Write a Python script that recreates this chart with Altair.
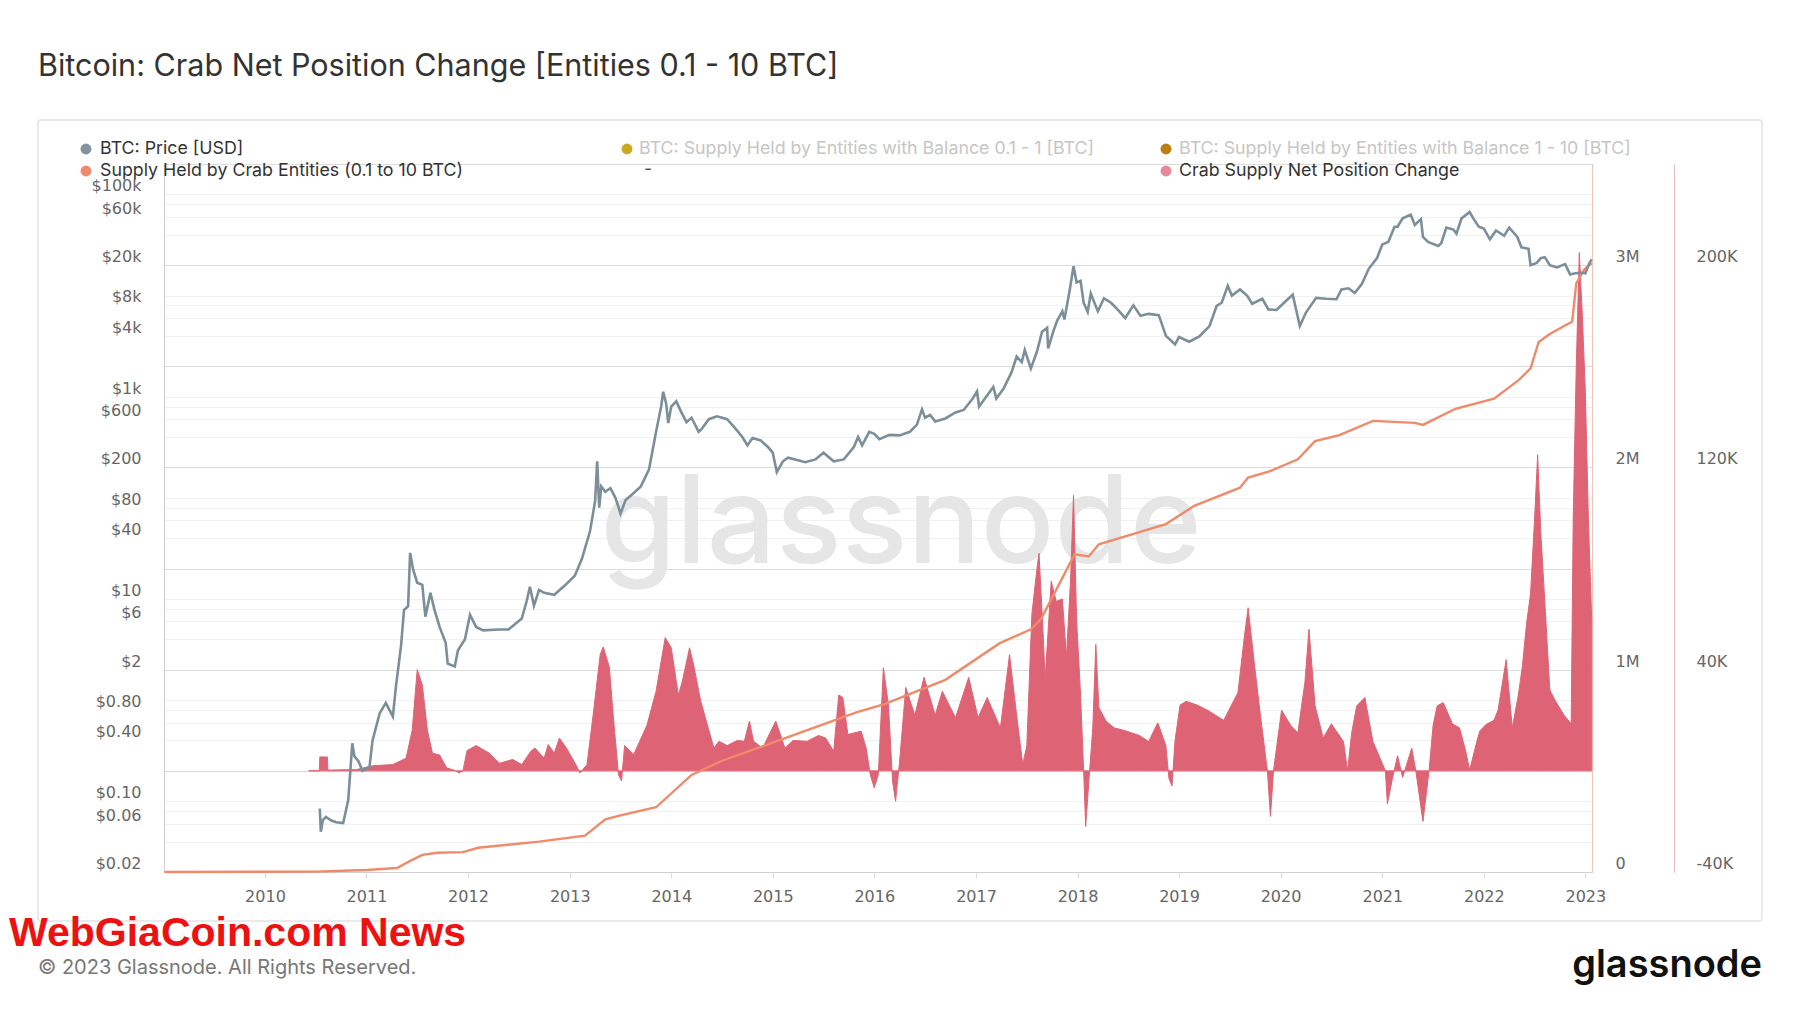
import altair as alt
import pandas as pd

# ---------------- data ----------------
price_t = [2010.54, 2010.55, 2010.57, 2010.60, 2010.65, 2010.70, 2010.77, 2010.82, 2010.86, 2010.88,
           2010.92, 2010.96, 2011.03, 2011.06, 2011.13, 2011.19, 2011.26, 2011.29, 2011.34, 2011.37,
           2011.41, 2011.43, 2011.46, 2011.50, 2011.55, 2011.58, 2011.63, 2011.67, 2011.72, 2011.78,
           2011.80, 2011.87, 2011.90, 2011.97, 2012.02, 2012.08, 2012.15, 2012.30, 2012.40, 2012.53,
           2012.58, 2012.61, 2012.65, 2012.70, 2012.75, 2012.85, 2012.95, 2013.05, 2013.12, 2013.20,
           2013.25, 2013.27, 2013.29, 2013.31, 2013.35, 2013.40, 2013.45, 2013.50, 2013.55, 2013.60,
           2013.70, 2013.78, 2013.85, 2013.90, 2013.92, 2013.95, 2013.97, 2014.00, 2014.05, 2014.10,
           2014.15, 2014.20, 2014.27, 2014.30, 2014.37, 2014.45, 2014.55, 2014.62, 2014.70, 2014.75,
           2014.80, 2014.88, 2014.95, 2015.00, 2015.04, 2015.10, 2015.15, 2015.25, 2015.32, 2015.42,
           2015.50, 2015.60, 2015.70, 2015.80, 2015.84, 2015.88, 2015.95, 2016.00, 2016.05, 2016.15,
           2016.25, 2016.35, 2016.42, 2016.47, 2016.50, 2016.55, 2016.60, 2016.70, 2016.80, 2016.88,
           2016.97, 2017.01, 2017.03, 2017.10, 2017.17, 2017.20, 2017.27, 2017.35, 2017.40, 2017.45,
           2017.48, 2017.54, 2017.60, 2017.65, 2017.70, 2017.71, 2017.76, 2017.80, 2017.85, 2017.87,
           2017.92, 2017.96, 2017.99, 2018.03, 2018.06, 2018.10, 2018.13, 2018.20, 2018.26, 2018.33,
           2018.40, 2018.47, 2018.55, 2018.62, 2018.70, 2018.80, 2018.87, 2018.96, 2019.00, 2019.10,
           2019.20, 2019.30, 2019.37, 2019.42, 2019.48, 2019.52, 2019.60, 2019.67, 2019.72, 2019.82,
           2019.88, 2019.96, 2020.05, 2020.12, 2020.19, 2020.25, 2020.35, 2020.45, 2020.55, 2020.60,
           2020.67, 2020.73, 2020.80, 2020.87, 2020.95, 2021.00, 2021.06, 2021.12, 2021.15, 2021.20,
           2021.28, 2021.32, 2021.38, 2021.40, 2021.45, 2021.55, 2021.58, 2021.63, 2021.70, 2021.73,
           2021.78, 2021.86, 2021.90, 2021.95, 2022.00, 2022.06, 2022.12, 2022.20, 2022.25, 2022.33,
           2022.37, 2022.44, 2022.46, 2022.52, 2022.56, 2022.60, 2022.65, 2022.72, 2022.80, 2022.85,
           2022.90, 2022.96, 2023.00, 2023.04, 2023.063]
price_usd = [0.085, 0.05, 0.065, 0.07, 0.065, 0.062, 0.061, 0.103, 0.375, 0.28,
             0.25, 0.2, 0.22, 0.4, 0.74, 0.94, 0.69, 1.36, 3.4, 7.8,
             8.5, 28.6, 19.5, 14.5, 13.8, 6.7, 11.5, 7.8, 5.3, 3.7,
             2.3, 2.15, 3.1, 4.0, 7.0, 5.3, 4.9, 5.0, 5.0, 6.4,
             9.7, 13.2, 8.6, 12.3, 11.5, 11.0, 13.5, 17, 25, 47,
             93, 230, 80, 130, 115, 125, 100, 70, 95, 105,
             130, 190, 450, 800, 1120, 850, 550, 800, 900, 700,
             560, 620, 450, 480, 600, 640, 600, 500, 400, 330,
             390, 370, 320, 280, 180, 230, 250, 235, 225, 240,
             280, 230, 240, 320, 400, 330, 450, 430, 380, 420,
             415, 450, 530, 750, 620, 660, 570, 610, 700, 740,
             960, 1130, 800, 1000, 1250, 960, 1200, 1750, 2500, 2200,
             2900, 1900, 2800, 4400, 4800, 3000, 4400, 5700, 7000, 5800,
             11000, 19500, 13500, 14000, 8500, 6900, 10500, 7000, 9400, 8500,
             7200, 6000, 8000, 6300, 6600, 6400, 4000, 3300, 3900, 3500,
             3950, 5000, 7900, 8500, 12500, 10000, 11500, 10000, 8300, 9300,
             7300, 7200, 8800, 10200, 5000, 6800, 9500, 9300, 9200, 11500,
             11800, 10600, 13000, 18500, 23500, 32000, 34000, 48000, 48000, 58000,
             63000, 50000, 57000, 38000, 34000, 31000, 33000, 47000, 45000, 41000,
             58000, 67000, 57000, 48000, 46000, 36000, 44000, 39000, 47000, 38000,
             30000, 29000, 20000, 21000, 23500, 24000, 20000, 19000, 20500, 16200,
             16600, 16800, 16600, 21000, 22800]

supply_t = [2009.01, 2010.50, 2011.00, 2011.30, 2011.45, 2011.55, 2011.70, 2011.95, 2012.10, 2012.70,
            2013.15, 2013.35, 2013.50, 2013.85, 2014.20, 2014.50, 2015.17, 2015.83, 2016.10, 2016.70,
            2017.23, 2017.54, 2017.64, 2017.97, 2018.11, 2018.21, 2018.87, 2019.15, 2019.60, 2019.68,
            2019.89, 2020.17, 2020.34, 2020.58, 2020.91, 2021.32, 2021.40, 2021.72, 2022.10, 2022.34,
            2022.46, 2022.54, 2022.65, 2022.83, 2022.87, 2022.91, 2022.99, 2023.063]
supply_m = [0.0, 0.002, 0.01, 0.02, 0.06, 0.085, 0.095, 0.098, 0.12, 0.15,
            0.18, 0.26, 0.28, 0.32, 0.48, 0.55, 0.67, 0.79, 0.83, 0.95,
            1.13, 1.2, 1.25, 1.57, 1.56, 1.62, 1.72, 1.81, 1.9, 1.95,
            1.98, 2.04, 2.13, 2.16, 2.23, 2.22, 2.21, 2.29, 2.34, 2.43,
            2.49, 2.62, 2.66, 2.71, 2.72, 2.91, 2.98, 3.01]

net_t = [2010.43, 2010.535, 2010.54, 2010.615, 2010.62, 2010.90, 2011.06, 2011.26, 2011.39, 2011.45,
         2011.50, 2011.55, 2011.60, 2011.65, 2011.72, 2011.79, 2011.88, 2011.91, 2011.95, 2011.99,
         2012.08, 2012.21, 2012.31, 2012.44, 2012.53, 2012.62, 2012.66, 2012.75, 2012.79, 2012.85,
         2012.90, 2012.97, 2013.06, 2013.10, 2013.17, 2013.23, 2013.30, 2013.33, 2013.39, 2013.43,
         2013.48, 2013.51, 2013.54, 2013.63, 2013.76, 2013.85, 2013.94, 2014.00, 2014.07, 2014.11,
         2014.18, 2014.22, 2014.29, 2014.42, 2014.47, 2014.55, 2014.65, 2014.72, 2014.77, 2014.81,
         2014.90, 2015.03, 2015.12, 2015.20, 2015.34, 2015.45, 2015.52, 2015.60, 2015.65, 2015.69,
         2015.74, 2015.87, 2015.92, 2015.96, 2016.00, 2016.04, 2016.09, 2016.14, 2016.18, 2016.21,
         2016.25, 2016.31, 2016.40, 2016.49, 2016.60, 2016.67, 2016.80, 2016.93, 2017.02, 2017.11,
         2017.24, 2017.33, 2017.40, 2017.46, 2017.50, 2017.55, 2017.60, 2017.62, 2017.66, 2017.68,
         2017.74, 2017.79, 2017.85, 2017.89, 2017.93, 2017.96, 2017.99, 2018.03, 2018.06, 2018.08,
         2018.11, 2018.15, 2018.18, 2018.21, 2018.25, 2018.28, 2018.36, 2018.46, 2018.61, 2018.70,
         2018.79, 2018.87, 2018.90, 2018.93, 2018.96, 2019.01, 2019.07, 2019.18, 2019.28, 2019.44,
         2019.58, 2019.64, 2019.68, 2019.74, 2019.79, 2019.87, 2019.90, 2019.93, 2020.01, 2020.10,
         2020.17, 2020.24, 2020.28, 2020.34, 2020.42, 2020.50, 2020.62, 2020.66, 2020.70, 2020.75,
         2020.83, 2020.91, 2020.98, 2021.03, 2021.05, 2021.10, 2021.15, 2021.20, 2021.29, 2021.33,
         2021.40, 2021.46, 2021.50, 2021.54, 2021.60, 2021.69, 2021.76, 2021.82, 2021.86, 2021.93,
         2021.96, 2022.02, 2022.10, 2022.14, 2022.22, 2022.28, 2022.34, 2022.38, 2022.42, 2022.46,
         2022.50, 2022.53, 2022.56, 2022.61, 2022.65, 2022.70, 2022.79, 2022.86, 2022.88, 2022.91,
         2022.94, 2022.97, 2023.00, 2023.03, 2023.05, 2023.063]
net_k = [0, 0, 5.5, 5.5, 0.3, 0.5, 2, 2.5, 5, 16,
         40, 34, 16, 7, 6.3, 1.2, 0, -0.8, 0, 8,
         10, 7, 3, 4.5, 2.5, 7.8, 9, 5, 10.4, 7,
         13, 9, 2.5, -0.8, 2.5, 22, 46, 49, 41, 21,
         -1.5, -4, 10, 6.5, 18, 31.5, 52.7, 48.7, 30, 35.5,
         48.7, 42, 27.6, 9, 11.7, 10, 12, 11.7, 19.7, 11.7,
         9, 19.7, 9, 12, 11.7, 14, 13, 7.8, 30, 29,
         14.4, 15.7, 9, -1.5, -6.7, -1.5, 40.8, 26, -4, -12,
         3.8, 33, 22, 37, 22, 31.5, 21, 37, 21, 29,
         17, 46, 22, 2.5, 10, 62, 80, 86, 55, 36,
         75, 67, 68, 45, 75, 109, 60, 30, 0, -22,
         -5, 17, 50, 25, 22, 19.7, 17, 16, 14, 11.6,
         19, 10, -3, -6, 12, 26, 27.5, 26, 24, 20,
         31, 52, 64.5, 43, 25.7, 0, -18, 0, 24, 18,
         15, 35, 56, 25.7, 13, 18.6, 11.6, 0, 15, 25.7,
         29, 11.6, 5, 0, -13, -3, 6, -2.6, 9, 0,
         -20, 0, 18, 25.7, 27, 18.6, 17, 8, 0.3, 11.6,
         15.8, 18.3, 20, 24, 44, 17, 30, 41.5, 58, 70,
         100, 125, 95, 60, 32, 28, 22, 18.6, 100, 160,
         205, 180, 150, 100, 75, 60]

years = list(range(2010, 2024))
grid_major = [0.02, 0.2, 2, 20, 200, 2000, 20000, 200000]
grid_minor = [0.04, 0.06, 0.08, 0.1, 0.4, 0.6, 0.8, 1, 4, 6, 8, 10, 40, 60, 80, 100,
              400, 600, 800, 1000, 4000, 6000, 8000, 10000, 40000, 60000, 80000, 100000]
price_labels = {0.02: "$0.02", 0.06: "$0.06", 0.1: "$0.10", 0.4: "$0.40", 0.8: "$0.80",
                2: "$2", 6: "$6", 10: "$10", 40: "$40", 80: "$80", 200: "$200", 600: "$600",
                1000: "$1k", 4000: "$4k", 8000: "$8k", 20000: "$20k", 60000: "$60k",
                100000: "$100k"}
supply_ticks = [0, 1, 2, 3]
net_ticks = [-40, 40, 120, 200]

TITLE = "Bitcoin: Crab Net Position Change [Entities 0.1 - 10 BTC]"
legend_items = ["BTC: Price [USD]",
                "BTC: Supply Held by Entities with Balance 0.1 - 1 [BTC]",
                "BTC: Supply Held by Entities with Balance 1 - 10 [BTC]",
                "Supply Held by Crab Entities (0.1 to 10 BTC)",
                "-",
                "Crab Supply Net Position Change"]


def yr(v):
    y = int(v)
    return pd.Timestamp(year=y, month=1, day=1) + pd.Timedelta(days=(v - y) * 365.25)


price_df = pd.DataFrame({"date": [yr(v) for v in price_t], "price": price_usd})
supply_df = pd.DataFrame({"date": [yr(v) for v in supply_t], "supply": supply_m})
net_df = pd.DataFrame({"date": [yr(v) for v in net_t], "net": net_k})
one = pd.DataFrame({"k": [0]})

# ---------------- styling ----------------
W, H = 1428, 708
AXF = "DejaVu Sans"
TXF = "Inter"
LAB = "#666666"

x_enc = alt.X(
    "date:T",
    scale=alt.Scale(domain=[alt.DateTime(year=2009, month=1, date=3),
                            alt.DateTime(year=2023, month=1, date=25)]),
    axis=alt.Axis(values=[alt.DateTime(year=y, month=1, date=1) for y in years],
                  format="%Y", labelAngle=0, grid=False, tickColor="#dddddd", tickSize=6,
                  labelPadding=10, domainColor="#cfcfcf", labelFont=AXF, labelFontSize=16,
                  labelColor=LAB, title=None, labelOverlap=False, labelFlush=False),
)

grid_all = sorted(grid_major + grid_minor)
expr = "''"
for v, s in price_labels.items():
    expr = f"datum.value == {v} ? '{s}' : ({expr})"
major_test = "indexof([" + ",".join(str(v) for v in grid_major) + "], datum.value) >= 0"

price_axis = alt.Axis(
    orient="left", values=grid_all, labelExpr=expr, grid=True,
    gridColor={"condition": {"test": major_test, "value": "#dcdcdc"}, "value": "#f1f1f1"},
    gridWidth=1.2, ticks=False, tickSize=0, domainColor="#cfcfcf", labelFont=AXF,
    labelFontSize=16, labelColor=LAB, labelPadding=23, labelBaseline="middle",
    labelOffset=-8.5, labelOverlap=False, labelFlush=False, title=None)

supply_axis = alt.Axis(
    orient="right", values=supply_ticks,
    labelExpr="datum.value == 0 ? '0' : datum.value + 'M'", grid=False, ticks=False,
    tickSize=0, domainColor="#f6c3b5", labelAlign="left", labelPadding=23,
    labelBaseline="middle", labelOffset=-8.5, labelFont=AXF, labelFontSize=16,
    labelColor=LAB, labelOverlap=False, labelFlush=False, title=None)

net_axis = alt.Axis(
    orient="right", offset=82, values=net_ticks, labelExpr="datum.value + 'K'",
    grid=False, ticks=False, tickSize=0, domainColor="#efb6bf", labelAlign="left",
    labelPadding=22, labelBaseline="middle", labelOffset=-8.5, labelFont=AXF,
    labelFontSize=16, labelColor=LAB, labelOverlap=False, labelFlush=False, title=None)

PRICE_C = "#7c8f99"
SUPPLY_C = "#ef8a6a"
NET_C = "#de6475"

area = alt.Chart(net_df).mark_area(color=NET_C, stroke=NET_C, strokeWidth=1,
                                   interpolate="linear").encode(
    x=x_enc,
    y=alt.Y("net:Q", scale=alt.Scale(domain=[-40, 240], nice=False, zero=False),
            axis=net_axis),
)
supply_line = alt.Chart(supply_df).mark_line(color=SUPPLY_C, strokeWidth=2.4).encode(
    x=x_enc,
    y=alt.Y("supply:Q", scale=alt.Scale(domain=[0, 3.5], nice=False, zero=False),
            axis=supply_axis),
)
price_line = alt.Chart(price_df).mark_line(color=PRICE_C, strokeWidth=2.6).encode(
    x=x_enc,
    y=alt.Y("price:Q", scale=alt.Scale(type="log", domain=[0.02, 200000], nice=False),
            axis=price_axis),
)


def text(t, x, y, size, color, font=TXF, align="left", weight="normal", baseline="middle"):
    return alt.Chart(one).mark_text(text=t, align=align, baseline=baseline, font=font,
                                    fontSize=size, color=color, fontWeight=weight).encode(
        x=alt.value(x), y=alt.value(y))


def dot(x, y, color):
    return alt.Chart(one).mark_point(filled=True, shape="circle", size=120, color=color,
                                     opacity=1).encode(x=alt.value(x), y=alt.value(y))


box = alt.Chart(one).mark_rect(filled=False, stroke="#e4e4e4", strokeWidth=1.5,
                               cornerRadius=3).encode(
    x=alt.value(-126), x2=alt.value(1598), y=alt.value(-44), y2=alt.value(757))

watermark = text("glassnode", 737, 362, 122, "#e6e6e6", weight=500, align="center")

dark = "#333333"
grey = "#c6c6c6"
LF = 17.8
legend_layers = [
    dot(-78, -15, "#8394a0"), text(legend_items[0], -64, -15, LF, dark),
    dot(463, -15, "#c9aa22"), text(legend_items[1], 475, -15, LF, grey),
    dot(1002, -15, "#b9800f"), text(legend_items[2], 1015, -15, LF, grey),
    dot(-78, 7, "#f08a6c"), text(legend_items[3], -64, 7, LF, dark),
    text(legend_items[4], 480, 6, LF, "#555555"),
    dot(1002, 7, "#e58a96"), text(legend_items[5], 1015, 7, LF, dark),
]

title = text(TITLE, -126, -97, 30.5, dark)
copyright = text("\u00a9 2023 Glassnode. All Rights Reserved.", -126, 804, 20, "#777777")
logo = text("glassnode", 1598, 802, 38, "#111111", align="right", weight=600)
webgia = text("WebGiaCoin.com News", -155, 782, 41, "#ee1111",
              font="Liberation Sans", weight="bold", baseline="alphabetic")

chart = alt.layer(
    box, watermark, area, supply_line, price_line, *legend_layers,
    title, copyright, logo, webgia,
).resolve_scale(y="independent").properties(
    width=W, height=H,
    autosize=alt.AutoSizeParams(type="none"),
    padding={"left": 156, "top": 156, "right": 200, "bottom": 133},
    background="white",
).configure_view(stroke="#e2e2e2")

chart.save("out.html", embed_options={"renderer": "svg", "actions": False})
